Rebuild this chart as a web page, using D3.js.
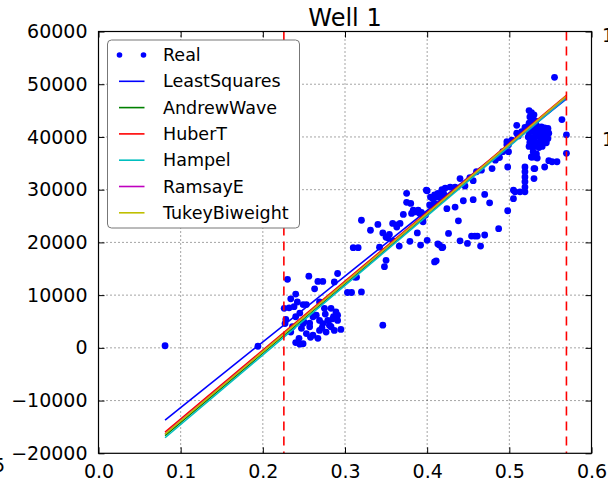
<!DOCTYPE html>
<html>
<head>
<meta charset="utf-8">
<script src="https://cdn.jsdelivr.net/npm/d3@7"></script>
<style>
  html, body { margin: 0; padding: 0; background: #fff; }
  svg { display: block; font-family: "DejaVu Sans", sans-serif; }
</style>
</head>
<body>
<svg id="chart" width="608" height="482"></svg>
<script>
// ---------------- DATA ----------------
const title = "Well 1";
const xTicks = [0.0, 0.1, 0.2, 0.3, 0.4, 0.5, 0.6];
const yTicks = [-20000, -10000, 0, 10000, 20000, 30000, 40000, 50000, 60000];
const xTickLabels = ["0.0", "0.1", "0.2", "0.3", "0.4", "0.5", "0.6"];
const yTickLabels = ["\u221220000", "\u221210000", "0", "10000", "20000", "30000", "40000", "50000", "60000"];

const vLines = [0.2256, 0.5695];

const modelNames = ["LeastSquares", "AndrewWave", "HuberT", "Hampel", "RamsayE", "TukeyBiweight"];
const modelColors = ["#0000ff", "#008000", "#ff0000", "#00bfbf", "#bf00bf", "#bfbf00"];
const fitX = [0.081, 0.5695];
const fitStartY = [-13700, -16650, -16000, -17050, -16300, -16350];
const fitEndY = [47200, 47600, 47900, 47400, 47700, 47750];

const realX = [
  // isolated
  0.081, 0.194, 0.346, 0.555, 0.564, 0.5695, 0.5695,
  // left cluster
  0.230, 0.256, 0.267, 0.273, 0.291, 0.287, 0.263, 0.240, 0.234, 0.226, 0.232, 0.238,
  0.242, 0.249, 0.253, 0.269, 0.275, 0.283, 0.289, 0.291, 0.291, 0.303, 0.308, 0.320,
  0.261, 0.265, 0.269, 0.273, 0.279, 0.281, 0.287, 0.277, 0.269, 0.257, 0.249, 0.247,
  0.253, 0.261, 0.267, 0.244, 0.240, 0.249, 0.227, 0.234, 0.228, 0.240, 0.245, 0.257,
  0.263, 0.285, 0.295, 0.276, 0.283, 0.250, 0.236, 0.272, 0.286, 0.245, 0.258,
  // mid region
  0.375, 0.400, 0.375, 0.380, 0.371, 0.381, 0.385, 0.389, 0.393, 0.404, 0.409, 0.413,
  0.418, 0.422, 0.403, 0.409, 0.398, 0.395, 0.320, 0.340, 0.358, 0.363, 0.367, 0.331,
  0.346, 0.352, 0.358, 0.366, 0.379, 0.388, 0.400, 0.392, 0.415, 0.418, 0.426, 0.310,
  0.316, 0.350, 0.348, 0.411, 0.314, 0.312,
  0.342, 0.350, 0.354, 0.363, 0.383, 0.387, 0.391, 0.395, 0.407, 0.413, 0.417, 0.434,
  0.440, 0.446, 0.456, 0.460, 0.466, 0.479, 0.483, 0.488, 0.492, 0.497, 0.428, 0.452,
  0.399, 0.409, 0.413, 0.419, 0.438, 0.440, 0.449, 0.454, 0.458, 0.461, 0.465, 0.470,
  0.487, 0.456, 0.444, 0.470, 0.476, 0.498, 0.434, 0.424, 0.420, 0.416,
  // right region
  0.498, 0.505, 0.505, 0.519, 0.519, 0.519, 0.519, 0.519, 0.519, 0.513, 0.507, 0.530,
  0.530, 0.530, 0.543, 0.548, 0.552, 0.558, 0.509, 0.509, 0.497, 0.499, 0.499, 0.527,
  0.531, 0.503, 0.511, 0.515, 0.519,
  // dense blob
  0.524, 0.527, 0.530, 0.525, 0.529, 0.532, 0.524, 0.528, 0.533,
  0.523, 0.527, 0.531, 0.535, 0.539, 0.543, 0.547,
  0.524, 0.528, 0.532, 0.536, 0.540, 0.544, 0.548,
  0.523, 0.527, 0.531, 0.535, 0.539, 0.543, 0.547,
  0.525, 0.529, 0.533, 0.537, 0.541, 0.545,
  0.524, 0.528, 0.532, 0.536, 0.540,
  0.529, 0.533, 0.527, 0.534
];
const realY = [
  // isolated
  400, 300, 4300, 51300, 43300, 40400, 36900,
  // left cluster
  13000, 13600, 12600, 12600, 14100, 12500, 11200, 10200, 9300, 7500, 7600, 7800,
  8700, 8200, 8200, 8700, 7500, 7500, 6800, 6200, 5200, 10500, 10500, 10600,
  5900, 6200, 5200, 4600, 5200, 4300, 3300, 3000, 3300, 4000, 4600, 3700,
  2700, 2400, 1800, 1800, 1000, 800, 4600, 3000, 5400, 5900, 700, 4700,
  6200, 5500, 3500, 6400, 4000, 4900, 4000, 3800, 5900, 6600, 2000,
  // mid region
  29300, 29800, 27600, 27400, 25300, 25500, 25800, 26100, 25700, 28600, 29000, 29300,
  30000, 30300, 27100, 27400, 25200, 23900, 24200, 23400, 23600, 23300, 23600, 22300,
  21800, 20900, 20300, 19300, 20200, 21800, 20400, 19500, 19500, 19000, 21700, 19000,
  19000, 16600, 15400, 16500, 13400, 13400,
  19100, 21000, 21500, 22900, 26100, 25800, 25500, 24700, 28300, 28600, 29100, 30500,
  32100, 30700, 31700, 33400, 33700, 34000, 35600, 36100, 37200, 38500, 30500, 32300,
  29900, 16300, 19700, 19100, 24100, 20300, 19800, 21200, 21200, 21200, 19300, 21400,
  22600, 28100, 27900, 29100, 27500, 26000, 26700, 26400, 29300, 29000,
  // right region
  34300, 29900, 28300, 34300, 33400, 32400, 31500, 30500, 29600, 29600, 29600, 34000,
  32100, 36200, 34300, 35500, 35300, 35300, 42200, 40700, 39100, 38500, 37200, 36200,
  34000, 39400, 40200, 41000, 41800,
  // dense blob
  45000, 44600, 44200, 43800, 43400, 43000, 42600, 42400, 42200,
  42000, 41900, 42000, 41800, 41900, 41700, 41600,
  41000, 41100, 40900, 41000, 40800, 40900, 40700,
  40000, 39900, 40000, 40100, 39800, 39900, 39700,
  39000, 39100, 38900, 39000, 38800, 38900,
  38200, 38100, 38300, 38000, 38200,
  37200, 36800, 36200, 36000
];

// ---------------- LAYOUT ----------------
const svg = d3.select("#chart");
const pL = 98.5, pR = 591.5, pT = 31.5, pB = 453.3;
const x = d3.scaleLinear().domain([0, 0.6]).range([pL, pR]);
const y = d3.scaleLinear().domain([-20000, 60000]).range([pB, pT]);
const tickFont = 19;

// grid
const grid = svg.append("g");
grid.selectAll("line.gx").data(xTicks.slice(1, -1)).join("line")
  .attr("x1", d => x(d)).attr("x2", d => x(d)).attr("y1", pT).attr("y2", pB)
  .attr("stroke", "#000").attr("stroke-width", 1).attr("stroke-dasharray", "1,3").attr("opacity", 0.7);
grid.selectAll("line.gy").data(yTicks.slice(1, -1)).join("line")
  .attr("y1", d => y(d)).attr("y2", d => y(d)).attr("x1", pL).attr("x2", pR)
  .attr("stroke", "#000").attr("stroke-width", 1).attr("stroke-dasharray", "1,3").attr("opacity", 0.7);

// clip
svg.append("clipPath").attr("id", "plotclip").append("rect")
  .attr("x", pL).attr("y", pT).attr("width", pR - pL).attr("height", pB - pT);
const plot = svg.append("g").attr("clip-path", "url(#plotclip)");

// points
plot.append("g").selectAll("circle").data(realX.map((v, i) => [v, realY[i]])).join("circle")
  .attr("cx", d => x(d[0])).attr("cy", d => y(d[1])).attr("r", 3.4).attr("fill", "#0000ff");

// fit lines
const lineGen = d3.line().x(d => x(d[0])).y(d => y(d[1]));
modelNames.forEach((name, i) => {
  plot.append("path")
    .datum([[fitX[0], fitStartY[i]], [fitX[1], fitEndY[i]]])
    .attr("d", lineGen).attr("fill", "none")
    .attr("stroke", modelColors[i]).attr("stroke-width", 1.6);
});

// vertical dashed lines
plot.selectAll("line.v").data(vLines).join("line")
  .attr("x1", d => x(d)).attr("x2", d => x(d)).attr("y1", pT).attr("y2", pB)
  .attr("stroke", "#ff0000").attr("stroke-width", 1.6).attr("stroke-dasharray", "9,6");

// axes
function styleAxis(g) {
  g.select(".domain").remove();
  g.selectAll(".tick line").attr("stroke", "#000").attr("stroke-width", 1);
  g.selectAll(".tick text").attr("font-size", tickFont).attr("fill", "#000")
    .attr("font-family", "DejaVu Sans, sans-serif");
}
svg.append("g").attr("transform", `translate(0,${pB})`)
  .call(d3.axisBottom(x).tickValues(xTicks).tickFormat((d, i) => xTickLabels[i]).tickSizeInner(-6).tickSizeOuter(0).tickPadding(11))
  .call(styleAxis);
svg.append("g").attr("transform", `translate(${pL},0)`)
  .call(d3.axisLeft(y).tickValues(yTicks).tickFormat((d, i) => yTickLabels[i]).tickSizeInner(-6).tickSizeOuter(0).tickPadding(11))
  .call(styleAxis);
svg.append("g").attr("transform", `translate(0,${pT})`)
  .call(d3.axisTop(x).tickValues(xTicks).tickFormat("").tickSizeInner(-6).tickSizeOuter(0))
  .call(styleAxis);
svg.append("g").attr("transform", `translate(${pR},0)`)
  .call(d3.axisRight(y).tickValues(yTicks).tickFormat("").tickSizeInner(-6).tickSizeOuter(0))
  .call(styleAxis);

// frame
svg.append("rect").attr("x", pL).attr("y", pT).attr("width", pR - pL).attr("height", pB - pT)
  .attr("fill", "none").attr("stroke", "#000").attr("stroke-width", 1.2);

// title
svg.append("text").attr("x", (pL + pR) / 2).attr("y", 26).attr("text-anchor", "middle")
  .attr("font-size", 24).attr("fill", "#000").text(title);

// legend
const legend = svg.append("g");
legend.append("rect").attr("x", 107.5).attr("y", 40).attr("width", 192).attr("height", 188)
  .attr("rx", 4).attr("fill", "#fff").attr("stroke", "#777").attr("stroke-width", 1);
const rowY0 = 55, rowStep = 26.3, fontL = 17.5;
const legendItems = ["Real"].concat(modelNames);
legendItems.forEach((name, i) => {
  const ry = rowY0 + i * rowStep;
  if (i === 0) {
    legend.append("circle").attr("cx", 119.5).attr("cy", ry).attr("r", 2.8).attr("fill", "#0000ff");
    legend.append("circle").attr("cx", 143.5).attr("cy", ry).attr("r", 2.8).attr("fill", "#0000ff");
  } else {
    legend.append("line").attr("x1", 119).attr("x2", 144.5).attr("y1", ry).attr("y2", ry)
      .attr("stroke", modelColors[i - 1]).attr("stroke-width", 1.6);
  }
  legend.append("text").attr("x", 163).attr("y", ry).attr("dy", "0.35em")
    .attr("font-size", fontL).attr("fill", "#000").text(name);
});

// fragments of neighbouring panels, cut off at the edges as in the reference
svg.append("text").attr("x", 602).attr("y", 42).attr("font-size", 19).attr("fill", "#000").text("1");
svg.append("text").attr("x", 602).attr("y", 146).attr("font-size", 19).attr("fill", "#000").text("1");
svg.append("text").attr("x", -7).attr("y", 472).attr("font-size", 19).attr("fill", "#000").text("5");
</script>
</body>
</html>
